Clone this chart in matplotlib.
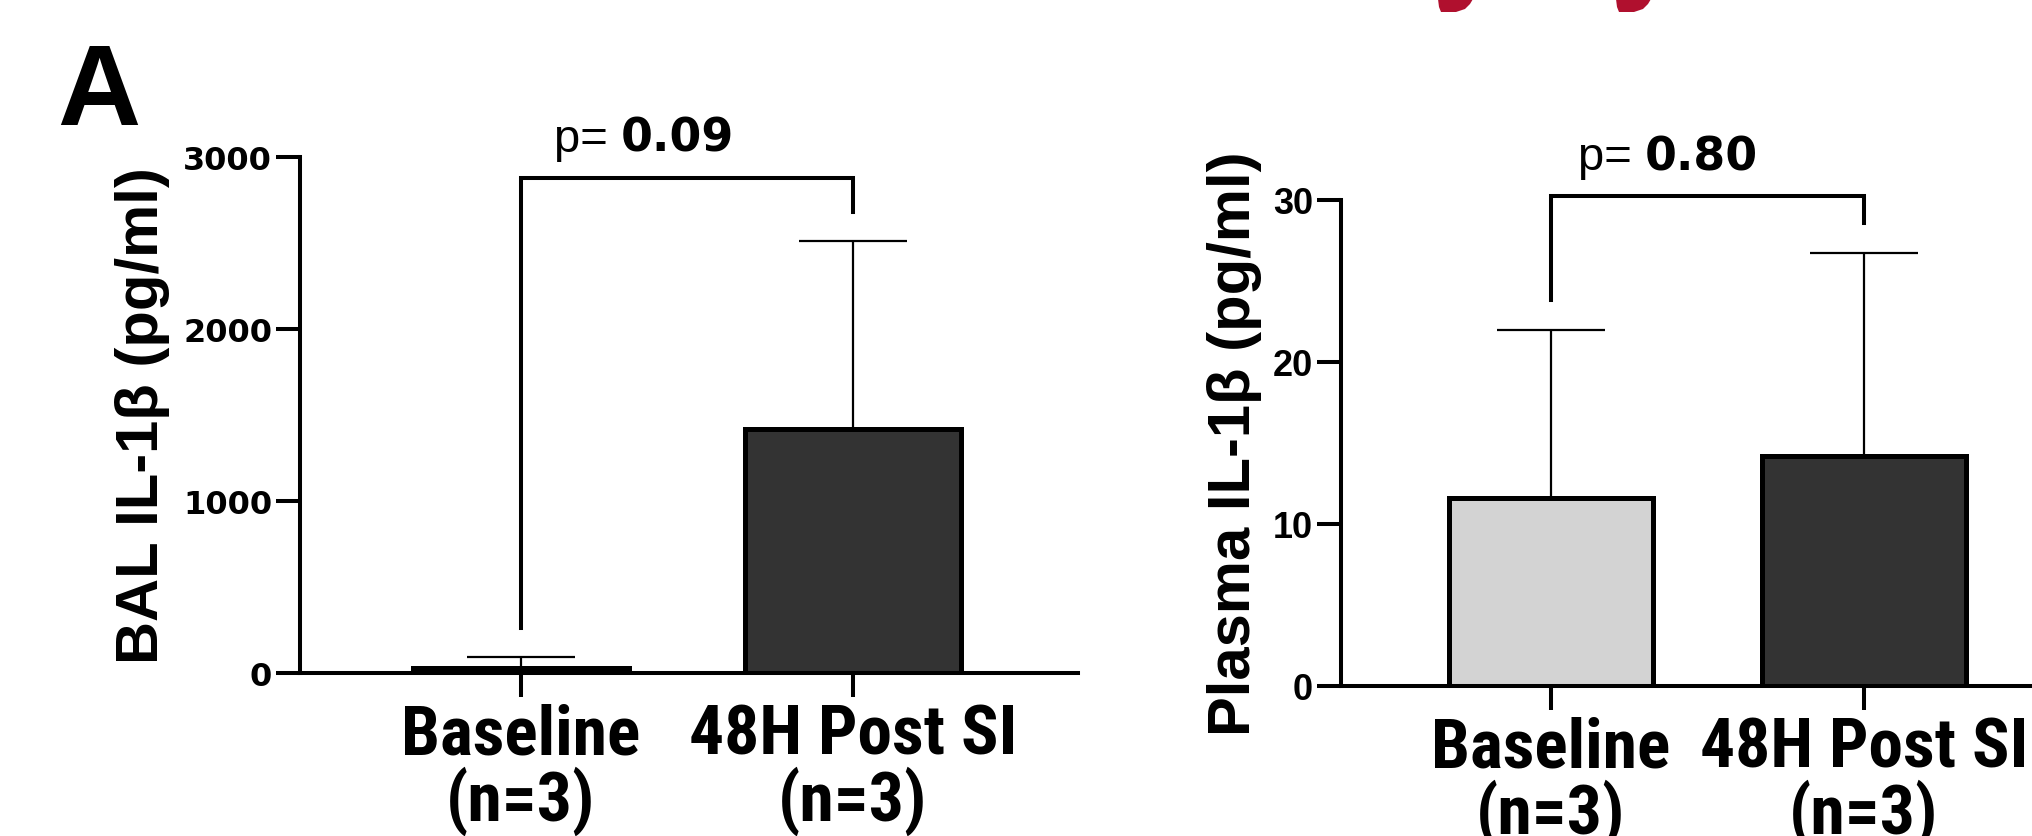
import matplotlib
matplotlib.use("Agg")
import matplotlib.pyplot as plt
from matplotlib.patches import Polygon

# ---------------- data ----------------
categories = ["Baseline\n(n=3)", "48H Post SI\n(n=3)"]
bal_mean = [30, 1418]
bal_sd = [61, 1092]
plasma_mean = [11.6, 14.2]
plasma_sd = [10.4, 12.5]
bal_p = "0.09"
plasma_p = "0.80"
bal_yticks = [0, 1000, 2000, 3000]
plasma_yticks = [0, 10, 20, 30]
bar_colors = ["#d3d3d3", "#333333"]

narrow = ["Roboto Condensed", "DejaVu Sans"]
arial = ["Liberation Sans", "DejaVu Sans"]

W, H = 2032, 837
fig = plt.figure(figsize=(W / 100, H / 100), dpi=100)


def panel(rect, means, sds, yticks, ytick_font, ytick_size, ylabel, ylabel_x,
          bracket, ptxt, p_xy, xlim):
    ax = fig.add_axes(rect)
    x = list(range(len(means)))
    ax.errorbar(x, means, yerr=[[0] * len(sds), sds], fmt="none", ecolor="black",
                elinewidth=1.6, capsize=39, capthick=1.6, zorder=1)
    ax.bar(x, means, width=0.65, color=bar_colors, edgecolor="black",
           linewidth=3.6, zorder=2)
    ax.set_xlim(*xlim)
    ax.set_ylim(yticks[0], yticks[-1])
    ax.set_yticks(yticks)
    ax.set_xticks(x)
    ax.set_xticklabels(categories, fontfamily=narrow, fontweight="bold",
                       fontsize=50, linespacing=0.97)
    for lab in ax.get_yticklabels():
        lab.set_fontfamily(ytick_font)
        lab.set_fontweight("bold")
        lab.set_fontsize(ytick_size)
    for s in ["top", "right"]:
        ax.spines[s].set_visible(False)
    for s in ["left", "bottom"]:
        ax.spines[s].set_linewidth(2.9)
    ax.tick_params(axis="both", width=2.9, length=17)
    ax.tick_params(axis="y", pad=3)
    ax.tick_params(axis="x", pad=4)
    ax.set_ylabel(ylabel, fontfamily=arial, fontweight="bold", fontsize=43)
    ax.yaxis.set_label_coords(ylabel_x, 0.5)
    # significance bracket
    top, lbot, rbot = bracket
    ax.plot([0, 0, 1, 1], [lbot, top, top, rbot], color="black", lw=2.9,
            clip_on=False, solid_joinstyle="miter", zorder=3)
    ax.text(p_xy[0], p_xy[1], "p= ", fontfamily=arial, fontsize=34,
            ha="right", va="baseline")
    ax.text(p_xy[0], p_xy[1], ptxt, fontfamily="DejaVu Sans", fontsize=33,
            fontweight="bold", ha="left", va="baseline")
    return ax


panel([300 / W, 1 - 674 / H, 778 / W, 516 / H], bal_mean, bal_sd, bal_yticks,
      ["DejaVu Sans"], 23, "BAL IL-1β (pg/ml)", -0.167, (2878, 264, 2683),
      bal_p, (0.30, 3035), (-0.666, 1.678))
panel([1341 / W, 1 - 687 / H, 691 / W, 486 / H], plasma_mean, plasma_sd,
      plasma_yticks, arial, 26, "Plasma IL-1β (pg/ml)", -0.115,
      (30.25, 23.85, 28.6), plasma_p, (0.30, 31.9), (-0.671, 1.537))

fig.text(57 / W, 1 - 125 / H, "A", fontfamily=arial, fontweight="bold",
         fontsize=83, ha="left", va="baseline")

# cropped red logo fragments at the top edge
red = "#b0102e"
for x0 in (1438, 1616):
    pts = [(x0, 0), (x0 + 1, 8), (x0 + 3, 13), (x0 + 18, 13), (x0 + 27, 10),
           (x0 + 32, 5), (x0 + 35, 0)]
    fig.patches.append(Polygon([(px / W, 1 - py / H) for px, py in pts],
                               closed=True, transform=fig.transFigure,
                               facecolor=red, edgecolor="none"))

fig.savefig("out.png", dpi=100)
